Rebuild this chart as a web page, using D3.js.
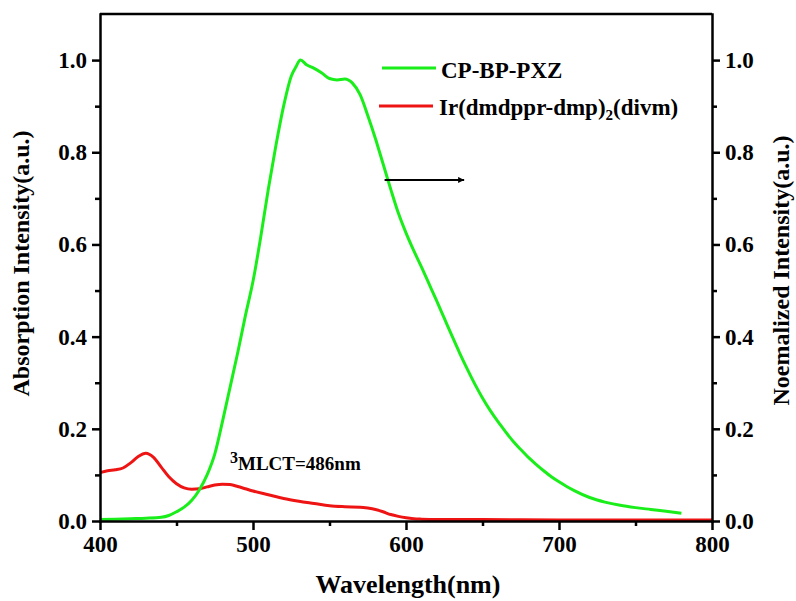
<!DOCTYPE html>
<html>
<head>
<meta charset="utf-8">
<style>
body { margin: 0; background: #fff; }
svg text { font-family: "Liberation Serif", serif !important; font-weight: bold; fill: #000; }
.axis path, .axis line { stroke: #000; stroke-width: 2.5; }
.axis text { font-size: 23px; }
</style>
<script src="https://d3js.org/d3.v7.min.js"></script>
</head>
<body>
<script>
var w = 796, h = 601;
var margin = {top: 14, right: 84, bottom: 80, left: 100};

// CP-BP-PXZ emission (normalized)
var pxzWave = [400, 410, 420, 430, 440, 445, 450, 455, 460, 465, 470, 475, 480, 485, 490, 495, 500, 505, 510, 515, 520, 525, 528, 531, 535, 540, 545, 550, 555, 560, 565, 570, 575, 580, 585, 590, 595, 600, 605, 610, 615, 620, 625, 630, 635, 640, 645, 650, 655, 660, 665, 670, 675, 680, 685, 690, 695, 700, 705, 710, 720, 730, 740, 750, 760, 770, 780];
var pxzInt = [0.003, 0.004, 0.005, 0.006, 0.008, 0.012, 0.02, 0.03, 0.045, 0.068, 0.1, 0.145, 0.215, 0.29, 0.365, 0.445, 0.52, 0.615, 0.72, 0.815, 0.9, 0.965, 0.985, 1.0, 0.99, 0.982, 0.972, 0.96, 0.957, 0.959, 0.95, 0.925, 0.88, 0.83, 0.775, 0.72, 0.668, 0.625, 0.587, 0.552, 0.515, 0.478, 0.44, 0.402, 0.365, 0.33, 0.297, 0.267, 0.24, 0.216, 0.194, 0.173, 0.155, 0.138, 0.123, 0.109, 0.096, 0.085, 0.075, 0.066, 0.051, 0.041, 0.034, 0.029, 0.025, 0.021, 0.017];

// Ir(dmdppr-dmp)2(divm) absorption
var irWave = [400, 405, 410, 415, 420, 425, 430, 435, 440, 445, 450, 455, 460, 465, 470, 475, 480, 485, 490, 495, 500, 510, 520, 530, 540, 550, 560, 570, 575, 580, 585, 590, 595, 600, 605, 610, 620, 650, 700, 750, 800];
var irAbs = [0.105, 0.109, 0.111, 0.115, 0.126, 0.14, 0.147, 0.138, 0.117, 0.096, 0.081, 0.072, 0.069, 0.07, 0.074, 0.078, 0.08, 0.079, 0.075, 0.07, 0.065, 0.057, 0.049, 0.043, 0.038, 0.033, 0.031, 0.03, 0.028, 0.025, 0.02, 0.014, 0.01, 0.007, 0.005, 0.004, 0.003, 0.003, 0.002, 0.002, 0.002];

var xTicks = [400, 500, 600, 700, 800];
var xMinor = [450, 550, 650, 750];
var yTicks = [0.0, 0.2, 0.4, 0.6, 0.8, 1.0];
var yMinor = [0.1, 0.3, 0.5, 0.7, 0.9];

var seriesNames = ["CP-BP-PXZ", "Ir(dmdppr-dmp)", "(divm)"];
var seriesColors = ["#1aee1a", "#ee1414"];

var iw = w - margin.left - margin.right;
var ih = h - margin.top - margin.bottom;

var svg = d3.select("body").append("svg")
    .attr("width", w)
    .attr("height", h);

var g = svg.append("g")
    .attr("transform", "translate(" + margin.left + "," + margin.top + ")");

var xScale = d3.scaleLinear().domain([400, 800]).range([0, iw]);
var yScale = d3.scaleLinear().domain([0, 1.1]).range([ih, 0]);

var line = d3.line()
    .x(function(d) { return xScale(d[0]); })
    .y(function(d) { return yScale(d[1]); })
    .curve(d3.curveMonotoneX);

var pxz = pxzWave.map(function(v, i) { return [v, pxzInt[i]]; });
var ir = irWave.map(function(v, i) { return [v, irAbs[i]]; });

g.append("path").datum(ir)
    .attr("fill", "none").attr("stroke", seriesColors[1]).attr("stroke-width", 3)
    .attr("d", line);
g.append("path").datum(pxz)
    .attr("fill", "none").attr("stroke", seriesColors[0]).attr("stroke-width", 3)
    .attr("d", line);

// frame top
g.append("line")
    .attr("x1", 0).attr("x2", iw).attr("y1", 0).attr("y2", 0)
    .attr("stroke", "#000").attr("stroke-width", 2.5);

// axes
var fmt = d3.format(".1f");
g.append("g").attr("class", "axis")
    .attr("transform", "translate(0," + ih + ")")
    .call(d3.axisBottom(xScale).tickValues(xTicks).tickSize(9).tickSizeOuter(0).tickPadding(6));
g.append("g").attr("class", "axis minor")
    .attr("transform", "translate(0," + ih + ")")
    .call(d3.axisBottom(xScale).tickValues(xMinor).tickSize(5).tickFormat(""))
    .select(".domain").remove();

g.append("g").attr("class", "axis")
    .call(d3.axisLeft(yScale).tickValues(yTicks).tickSize(8).tickSizeOuter(0).tickPadding(5).tickFormat(fmt));
g.append("g").attr("class", "axis minor")
    .call(d3.axisLeft(yScale).tickValues(yMinor).tickSize(5).tickFormat(""))
    .select(".domain").remove();

g.append("g").attr("class", "axis")
    .attr("transform", "translate(" + iw + ",0)")
    .call(d3.axisRight(yScale).tickValues(yTicks).tickSize(8).tickSizeOuter(0).tickPadding(5).tickFormat(fmt));
g.append("g").attr("class", "axis minor")
    .attr("transform", "translate(" + iw + ",0)")
    .call(d3.axisRight(yScale).tickValues(yMinor).tickSize(5).tickFormat(""))
    .select(".domain").remove();

g.selectAll(".axis path.domain").attr("stroke-linecap", "square");
svg.selectAll(".axis").attr("font-family", null);

// axis titles
svg.append("text")
    .attr("x", margin.left + iw / 2 + 2).attr("y", 593)
    .attr("text-anchor", "middle").style("font-size", "26px")
    .text("Wavelength(nm)");
svg.append("text")
    .attr("transform", "translate(29," + (margin.top + ih / 2 - 4) + ") rotate(-90)")
    .attr("text-anchor", "middle").style("font-size", "24px")
    .text("Absorption Intensity(a.u.)");
svg.append("text")
    .attr("transform", "translate(789," + (margin.top + ih / 2 + 3) + ") rotate(-90)")
    .attr("text-anchor", "middle").style("font-size", "24px")
    .text("Noemalized Intensity(a.u.)");

// legend
var lg = g.append("g");
lg.append("line").attr("x1", 282).attr("x2", 336).attr("y1", 54).attr("y2", 54)
    .attr("stroke", seriesColors[0]).attr("stroke-width", 3);
lg.append("text").attr("x", 341).attr("y", 64).style("font-size", "23px").text(seriesNames[0]);
lg.append("line").attr("x1", 279).attr("x2", 333).attr("y1", 92).attr("y2", 92)
    .attr("stroke", seriesColors[1]).attr("stroke-width", 3);
var t2 = lg.append("text").attr("x", 339).attr("y", 101).style("font-size", "23px");
t2.append("tspan").text(seriesNames[1]);
t2.append("tspan").attr("dy", 5).style("font-size", "15px").text("2");
t2.append("tspan").attr("dy", -5).text(seriesNames[2]);

// annotation
var ann = g.append("text").attr("x", 130).attr("y", 456).style("font-size", "19px");
ann.append("tspan").attr("dy", -7).style("font-size", "16px").text("3");
ann.append("tspan").attr("dy", 7).text("MLCT=486nm");

// arrow
svg.append("defs").append("marker")
    .attr("id", "arr").attr("viewBox", "0 0 10 10")
    .attr("refX", 10).attr("refY", 5)
    .attr("markerWidth", 9).attr("markerHeight", 6)
    .attr("markerUnits", "userSpaceOnUse")
    .attr("orient", "auto")
    .append("path").attr("d", "M0,0 L10,5 L0,10 Z").attr("fill", "#000");
g.append("line")
    .attr("x1", xScale(586)).attr("x2", xScale(638))
    .attr("y1", yScale(0.74)).attr("y2", yScale(0.74))
    .attr("stroke", "#000").attr("stroke-width", 2)
    .attr("marker-end", "url(#arr)");
</script>
</body>
</html>
